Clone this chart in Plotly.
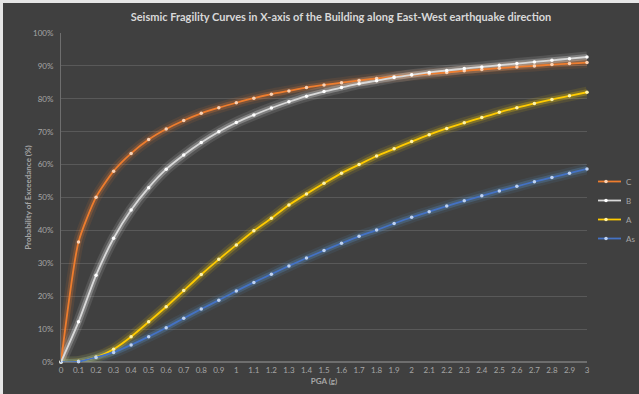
import plotly.graph_objects as go

pga = [0, 0.1, 0.2, 0.3, 0.4, 0.5, 0.6, 0.7, 0.8, 0.9, 1.0, 1.1, 1.2, 1.3, 1.4, 1.5,
       1.6, 1.7, 1.8, 1.9, 2.0, 2.1, 2.2, 2.3, 2.4, 2.5, 2.6, 2.7, 2.8, 2.9, 3.0]
pga_labels = ["0", "0.1", "0.2", "0.3", "0.4", "0.5", "0.6", "0.7", "0.8", "0.9", "1",
              "1.1", "1.2", "1.3", "1.4", "1.5", "1.6", "1.7", "1.8", "1.9", "2",
              "2.1", "2.2", "2.3", "2.4", "2.5", "2.6", "2.7", "2.8", "2.9", "3"]

curve_C = [0, 36.5, 50.1, 58.0, 63.4, 67.6, 70.8, 73.4, 75.6, 77.3, 78.8, 80.2, 81.4, 82.4,
           83.4, 84.2, 84.9, 85.6, 86.2, 86.7, 87.2, 87.6, 88.0, 88.5, 88.9, 89.3, 89.7,
           90.0, 90.4, 90.7, 91.0]
curve_B = [0, 12.2, 26.4, 37.6, 46.2, 53.0, 58.6, 62.9, 66.7, 70.0, 72.8, 75.1, 77.2, 79.1,
           80.8, 82.2, 83.4, 84.6, 85.5, 86.5, 87.3, 88.0, 88.6, 89.2, 89.7, 90.2, 90.7,
           91.2, 91.7, 92.2, 92.7]
curve_A = [0, 0.2, 1.5, 3.9, 7.7, 12.2, 16.8, 21.7, 26.6, 31.2, 35.6, 39.9, 43.7, 47.7,
           51.1, 54.3, 57.4, 60.0, 62.6, 64.8, 67.0, 69.1, 71.0, 72.7, 74.3, 75.9, 77.3,
           78.6, 79.8, 80.9, 82.0]
curve_As = [0, 0.1, 1.4, 2.9, 5.2, 7.7, 10.4, 13.3, 16.1, 18.8, 21.6, 24.2, 26.7, 29.2,
            31.6, 33.9, 36.1, 38.2, 40.1, 42.1, 44.0, 45.7, 47.4, 49.0, 50.5, 52.0, 53.4,
            54.8, 56.1, 57.4, 58.7]

series = [
    ("C", curve_C, "#EE7D2E", "#ED7D31", "#FAD2B4"),
    ("B", curve_B, "#D9D9D9", "#FFFFFF", "#FFFFFF"),
    ("A", curve_A, "#FFCB00", "#FFD700", "#FFF3A8"),
    ("As", curve_As, "#4472C4", "#5B9BD5", "#BFD3F2"),
]

y_ticks = [0, 10, 20, 30, 40, 50, 60, 70, 80, 90, 100]
y_labels = ["0%", "10%", "20%", "30%", "40%", "50%", "60%", "70%", "80%", "90%", "100%"]

fig = go.Figure()

# glow layers
for name, vals, col, glow, mk in series:
    for w, op in [(11, 0.10), (6, 0.25)]:
        fig.add_trace(go.Scatter(
            x=pga, y=vals, mode="lines", line=dict(color=glow, width=w, shape="spline", smoothing=0.6),
            opacity=op, showlegend=False, hoverinfo="skip", cliponaxis=False))

for name, vals, col, glow, mk in series:
    fig.add_trace(go.Scatter(
        x=pga, y=vals, name=name, mode="lines+markers",
        line=dict(color=col, width=1.8, shape="spline", smoothing=0.6),
        marker=dict(size=3.5, color=mk, line=dict(width=0)),
        cliponaxis=False))

W, H = 639, 394
ml, mr, mt, mb = 61, 52, 33, 32
pw, ph = W - ml - mr, H - mt - mb

# dark chart area with thin light frame on top/left
fig.add_shape(type="rect", xref="paper", yref="paper", layer="below",
              x0=(3 - ml) / pw, x1=(W + 5 - ml) / pw,
              y0=-(mb + 5) / ph, y1=(H - mb - 3) / ph,
              fillcolor="#404040", line=dict(width=0))

fig.update_layout(
    width=W, height=H,
    margin=dict(l=ml, r=mr, t=mt, b=mb, autoexpand=False),
    paper_bgcolor="#E6E6E6",
    plot_bgcolor="rgba(0,0,0,0)",
    font=dict(family="Lato, Open Sans, sans-serif", color="#A6A6A6", size=8),
    title=dict(text="<b>Seismic Fragility Curves in X-axis of the Building along East-West earthquake direction</b>",
               x=(341 - ml) / pw, xref="paper", xanchor="center", y=1 - 17 / H, yanchor="middle",
               font=dict(size=11, color="#D9D9D9", family="Lato, Open Sans, sans-serif")),
    xaxis=dict(range=[0, 3], tickvals=pga, ticktext=pga_labels, showgrid=False,
               zeroline=False, showline=False, ticks="", tickfont=dict(size=8, color="#A6A6A6"),
               ticklabelstandoff=2,
               title=dict(text="<b>PGA (g)</b>", font=dict(size=8, color="#A6A6A6"), standoff=4)),
    yaxis=dict(range=[0, 100], tickvals=y_ticks, ticktext=y_labels, showgrid=True,
               gridcolor="#595959", gridwidth=1, zeroline=True, zerolinecolor="#6E6E6E",
               showline=True, linecolor="#6E6E6E", linewidth=1, ticks="",
               ticklabelstandoff=5,
               tickfont=dict(size=8, color="#A6A6A6"),
               title=dict(text="<b>Probability of Exceedance (%)</b>", font=dict(size=8, color="#A6A6A6"),
                          standoff=0)),
    legend=dict(x=(598 - ml) / pw, xanchor="left", y=(362 - 210) / ph, yanchor="middle",
                bgcolor="rgba(0,0,0,0)", font=dict(size=8, color="#A6A6A6"),
                itemwidth=30, tracegroupgap=0, indentation=-12),
    showlegend=True,
)

fig.write_html("out.html", config={"displayModeBar": False},
               post_script="document.body.style.margin='0';")
